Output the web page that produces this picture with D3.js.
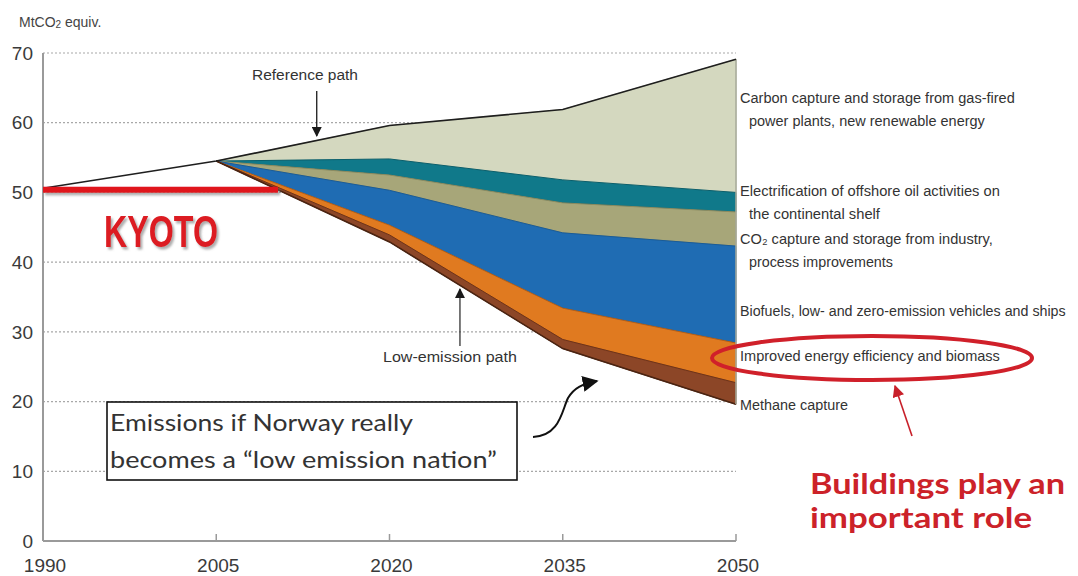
<!DOCTYPE html>
<html>
<head>
<meta charset="utf-8">
<script src="https://cdn.jsdelivr.net/npm/d3@7"></script>
<style>
  html, body { margin: 0; padding: 0; background: #fff; }
  svg { display: block; }
</style>
</head>
<body>
<svg id="chart" width="1078" height="576"></svg>
<script>
// ---- Data (MtCO2 equivalents) ----
const yTicks = [0, 10, 20, 30, 40, 50, 60, 70];
const xTicks = [1990, 2005, 2020, 2035, 2050];

// Reference path (business as usual)
const refYears = [1990, 2005, 2020, 2035, 2050];
const refValues = [50.6, 54.5, 59.6, 61.9, 69.1];

// Kyoto commitment level
const kyotoYears = [1990, 2010];
const kyotoLevel = 50.4;

// Wedge years and the low-emission path underneath the wedges
const wedgeYears = [2005, 2020, 2035, 2050];
const lowEmission = [54.5, 42.9, 27.6, 19.6];

// Reduction wedges, stacked from the low-emission path upward
const methane     = [0, 1.0, 1.3, 3.1];
const efficiency  = [0, 1.4, 4.5, 5.7];
const biofuels    = [0, 5.0, 10.8, 13.9];
const industryCCS = [0, 2.2, 4.3, 4.9];
const offshore    = [0, 2.3, 3.3, 2.8];
const gasCCS      = [0, 4.8, 10.1, 19.1];

const wedgeKeys = ["base", "methane", "efficiency", "biofuels", "industryCCS", "offshore", "gasCCS"];
const wedgeColors = {
  methane: "#8c4627",
  efficiency: "#e07a20",
  biofuels: "#1f6cb3",
  industryCCS: "#a7a679",
  offshore: "#10798a",
  gasCCS: "#d4d8bf"
};
const wedgeEdges = {
  methane: "#6e3218",
  efficiency: "#b85f14",
  biofuels: "#1a5c98",
  industryCCS: "#8d8c60",
  offshore: "#0b5f6c",
  gasCCS: "#c7cbb0"
};

// Wedge labels (two-line ones continue indented)
const wedgeLabels = [
  { lines: ["Carbon capture and storage from gas-fired", "power plants, new renewable energy"], widths: [275, 236], y: 98 },
  { lines: ["Electrification of offshore oil activities on", "the continental shelf"], widths: [260, 131], y: 191 },
  { lines: ["CO\u2082 capture and storage from industry,", "process improvements"], widths: [253, 144], y: 239 },
  { lines: ["Biofuels, low- and zero-emission vehicles and ships"], widths: [326], y: 311 },
  { lines: ["Improved energy efficiency and biomass"], widths: [260], y: 356 },
  { lines: ["Methane capture"], widths: [108], y: 405 }
];

// ---- Layout ----
const svg = d3.select("#chart");
const x = d3.scaleLinear().domain([1990, 2050]).range([43, 736]);
const y = d3.scaleLinear().domain([0, 70]).range([541, 53]);

const labelFont = "'Liberation Sans', Arial, sans-serif";
const axisColor = "#9a9a9a";

// defs: arrowheads and shadow
const defs = svg.append("defs");
function arrowMarker(id, color, size) {
  defs.append("marker")
    .attr("id", id)
    .attr("viewBox", "0 0 10 10")
    .attr("refX", 9).attr("refY", 5)
    .attr("markerWidth", size).attr("markerHeight", size)
    .attr("markerUnits", "userSpaceOnUse")
    .attr("orient", "auto")
    .append("path").attr("d", "M0,0 L10,5 L0,10 Z").attr("fill", color);
}
arrowMarker("arrBlack", "#1a1a1a", 10);
arrowMarker("arrBig", "#111", 16);
arrowMarker("arrRed", "#c8202a", 12);

const shadow = defs.append("filter").attr("id", "shadow")
  .attr("filterUnits", "userSpaceOnUse")
  .attr("x", 0).attr("y", 0).attr("width", 1078).attr("height", 576);
shadow.append("feDropShadow").attr("dx", 2).attr("dy", 2.5).attr("stdDeviation", 1.2)
  .attr("flood-color", "#777").attr("flood-opacity", 0.6);

// ---- Gridlines ----
svg.append("g").selectAll("line")
  .data(yTicks.filter(d => d > 0))
  .join("line")
  .attr("x1", x(1990)).attr("x2", x(2050))
  .attr("y1", d => y(d)).attr("y2", d => y(d))
  .attr("stroke", "#a8a8a8").attr("stroke-width", 1.2)
  .attr("stroke-dasharray", "2,2");

// ---- Stacked wedges ----
const rows = wedgeYears.map((yr, i) => ({
  year: yr,
  base: lowEmission[i],
  methane: methane[i],
  efficiency: efficiency[i],
  biofuels: biofuels[i],
  industryCCS: industryCCS[i],
  offshore: offshore[i],
  gasCCS: gasCCS[i]
}));
const stacked = d3.stack().keys(wedgeKeys)(rows);

const area = d3.area()
  .x(d => x(d.data.year))
  .y0(d => y(d[0]))
  .y1(d => y(d[1]));

svg.append("g").selectAll("path")
  .data(stacked.filter(s => s.key !== "base").reverse())
  .join("path")
  .attr("d", area)
  .attr("fill", s => wedgeColors[s.key])
  .attr("stroke", s => wedgeEdges[s.key])
  .attr("stroke-width", 1)
  .attr("stroke-linejoin", "round");

// low-emission path edge
svg.append("path")
  .datum(wedgeYears.map((yr, i) => [yr, lowEmission[i]]))
  .attr("d", d3.line().x(d => x(d[0])).y(d => y(d[1])))
  .attr("fill", "none").attr("stroke", "#4a2412").attr("stroke-width", 1.6);

// right edge of the wedges
svg.append("line")
  .attr("x1", x(2050)).attr("x2", x(2050))
  .attr("y1", y(refValues[refValues.length - 1])).attr("y2", y(lowEmission[lowEmission.length - 1]))
  .attr("stroke", "#a9ab9c").attr("stroke-width", 1.5);

// ---- Reference path ----
svg.append("path")
  .datum(refYears.map((yr, i) => [yr, refValues[i]]))
  .attr("d", d3.line().x(d => x(d[0])).y(d => y(d[1])))
  .attr("fill", "none").attr("stroke", "#1e1e1e").attr("stroke-width", 1.6);

// ---- Axes ----
const axes = svg.append("g");
axes.append("line")
  .attr("x1", x(1990)).attr("x2", x(1990)).attr("y1", y(0)).attr("y2", y(70))
  .attr("stroke", axisColor).attr("stroke-width", 2);
axes.append("line")
  .attr("x1", x(1990)).attr("x2", x(2050)).attr("y1", y(0)).attr("y2", y(0))
  .attr("stroke", axisColor).attr("stroke-width", 2);
axes.selectAll(".xt").data(xTicks.slice(1)).join("line")
  .attr("x1", d => x(d)).attr("x2", d => x(d))
  .attr("y1", y(0)).attr("y2", y(0) - 7)
  .attr("stroke", axisColor).attr("stroke-width", 1.5);

axes.selectAll(".yl").data(yTicks).join("text")
  .attr("x", 33).attr("y", d => y(d))
  .attr("dy", "0.35em")
  .attr("text-anchor", "end")
  .attr("font-family", labelFont).attr("font-size", 19)
  .attr("fill", "#3a3a3a")
  .text(d => d);

axes.selectAll(".xl").data(xTicks).join("text")
  .attr("x", d => x(d) + 2).attr("y", 572)
  .attr("text-anchor", "middle")
  .attr("font-family", labelFont).attr("font-size", 19)
  .attr("fill", "#3a3a3a")
  .text(d => d);

// unit label
const unit = svg.append("text")
  .attr("x", 19).attr("y", 27)
  .attr("font-family", labelFont).attr("font-size", 14)
  .attr("fill", "#444");
unit.append("tspan").text("MtCO");
unit.append("tspan").attr("font-size", 10).attr("dy", 1).text("2");
unit.append("tspan").attr("dy", -1).text(" equiv.");

// helper: squeeze text to a measured width
function fit(sel, width) {
  sel.attr("textLength", width).attr("lengthAdjust", "spacingAndGlyphs");
}

// helper: condensed text drawn at (x0, y0), horizontally scaled to a width
function condensed(parent, x0, y0, str, width) {
  const g = parent.append("g");
  const t = g.append("text").attr("x", 0).attr("y", 0).attr("dy", "0.35em").text(str);
  const natural = t.node().getComputedTextLength();
  g.attr("transform", `translate(${x0},${y0}) scale(${width / natural},1)`);
  return t;
}

// ---- Wedge labels ----
const lab = svg.append("g")
  .attr("font-family", labelFont).attr("font-size", 15).attr("fill", "#333");
wedgeLabels.forEach(w => {
  w.lines.forEach((ln, j) => {
    condensed(lab, j === 0 ? 740 : 749, w.y + j * 23, ln, w.widths[j]);
  });
});

// ---- Path annotations ----
const ann = svg.append("g").attr("font-family", labelFont).attr("font-size", 15).attr("fill", "#333");
condensed(ann, 252, 75, "Reference path", 106);
const refArrowYear = 2013.7;
ann.append("line")
  .attr("x1", x(refArrowYear)).attr("x2", x(refArrowYear))
  .attr("y1", 91).attr("y2", 136)
  .attr("stroke", "#1a1a1a").attr("stroke-width", 1.3)
  .attr("marker-end", "url(#arrBlack)");

condensed(ann, 383, 357, "Low-emission path", 134);
const lowArrowYear = 2026.1;
ann.append("line")
  .attr("x1", x(lowArrowYear)).attr("x2", x(lowArrowYear))
  .attr("y1", 346).attr("y2", 289)
  .attr("stroke", "#333").attr("stroke-width", 1.3)
  .attr("marker-end", "url(#arrBlack)");

// ---- Kyoto line ----
svg.append("line")
  .attr("x1", x(kyotoYears[0])).attr("x2", x(kyotoYears[1]) + 4)
  .attr("y1", y(kyotoLevel)).attr("y2", y(kyotoLevel))
  .attr("stroke", "#e0141c").attr("stroke-width", 6)
  .attr("filter", "url(#shadow)");

const kyoto = svg.append("text")
  .attr("x", 104).attr("y", 247)
  .attr("font-family", labelFont).attr("font-weight", "bold").attr("font-size", 45)
  .attr("fill", "#dc1c24")
  .attr("filter", "url(#shadow)")
  .text("KYOTO");
fit(kyoto, 114);

// ---- Boxed note ----
svg.append("rect")
  .attr("x", 107).attr("y", 402).attr("width", 410).attr("height", 78)
  .attr("fill", "#fff").attr("stroke", "#111").attr("stroke-width", 1.6);
const note = svg.append("g")
  .attr("font-family", "Lato, 'Open Sans', sans-serif").attr("font-size", 23).attr("fill", "#333");
fit(note.append("text").attr("x", 110).attr("y", 423).attr("dy", "0.35em").text("Emissions if Norway really"), 303);
fit(note.append("text").attr("x", 110).attr("y", 460).attr("dy", "0.35em").text("becomes a \u201clow emission nation\u201d"), 387);

// curved pointer
svg.append("path")
  .attr("d", "M533,437 C560,436 562,410 568,398 C574,388 582,384 597,381")
  .attr("fill", "none").attr("stroke", "#111").attr("stroke-width", 2)
  .attr("marker-end", "url(#arrBig)");

// ---- Highlight of the efficiency wedge ----
svg.append("ellipse")
  .attr("cx", 872).attr("cy", 358).attr("rx", 160).attr("ry", 22)
  .attr("fill", "none").attr("stroke", "#d0202a").attr("stroke-width", 4);

svg.append("line")
  .attr("x1", 912).attr("y1", 436).attr("x2", 895).attr("y2", 386)
  .attr("stroke", "#c8202a").attr("stroke-width", 1.6)
  .attr("marker-end", "url(#arrRed)");

const bld = svg.append("g")
  .attr("font-family", "Lato, 'Open Sans', sans-serif").attr("font-weight", "bold")
  .attr("font-size", 29).attr("fill", "#cc2229");
fit(bld.append("text").attr("x", 810).attr("y", 484).attr("dy", "0.35em").text("Buildings play an"), 255);
fit(bld.append("text").attr("x", 810).attr("y", 518).attr("dy", "0.35em").text("important role"), 222);
</script>
</body>
</html>
